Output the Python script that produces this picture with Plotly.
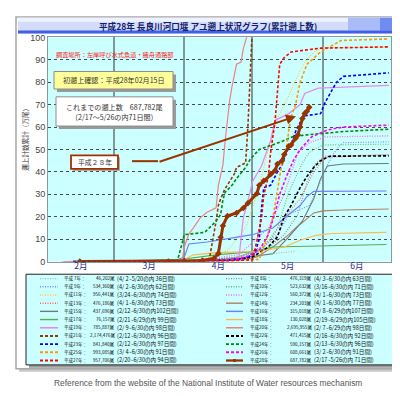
import plotly.graph_objects as go

W, H = 400, 396

# ---------------- data (万尾, cumulative) ----------------
h07_dates = ["4/2", "4/20", "5/5", "5/15", "5/20"]
h07_vals = [0, 1, 3, 4.2, 4.62]
h08_dates = ["4/3", "4/25", "5/8", "5/15", "5/21", "5/25", "5/29", "6/2", "6/30"]
h08_vals = [0, 2, 6, 12, 21, 35.6, 44, 47, 47.63]
h09_dates = ["4/2", "4/25", "5/5", "5/12", "5/17", "5/26", "5/31", "6/2", "6/5", "6/8", "6/10", "6/30"]
h09_vals = [0, 2, 6, 12, 21, 25, 35.6, 41, 47, 51.3, 53, 53.44]
h10_dates = ["3/16", "4/20", "5/5", "5/12", "5/17", "5/23", "5/26", "6/1", "6/30"]
h10_vals = [0, 1, 5, 15, 31, 44, 48.7, 52, 52.36]
h11_dates = ["3/24", "4/10", "4/20", "4/28", "5/3", "5/8", "5/12", "5/17", "5/21", "5/24", "5/28", "6/1", "6/30"]
h11_vals = [0, 1, 5, 15, 30, 50, 64, 74, 83, 89, 93.5, 95.3, 95.64]
h12_dates = ["4/1", "4/25", "5/8", "5/15", "5/21", "5/26", "6/2", "6/30"]
h12_vals = [0, 3, 15, 30, 48.7, 53, 55.6, 56.04]
h13_dates = ["4/1", "4/25", "5/8", "5/15", "5/22", "5/28", "6/2", "6/30"]
h13_vals = [0, 2, 8, 19.5, 28, 40, 46.5, 47.62]
h14_dates = ["4/1", "4/25", "5/3", "5/10", "5/17", "5/20", "5/23", "5/28", "6/1", "6/10", "6/30"]
h14_vals = [0, 0.5, 2, 6.5, 12, 15, 17.4, 21.7, 22.6, 23, 23.42]
h15_dates = ["2/12", "4/10", "4/25", "5/10", "5/17", "5/23", "5/28", "5/31", "6/3", "6/10", "6/30"]
h15_vals = [0, 0.5, 1.5, 3.5, 11, 18, 28, 37, 42.6, 43.5, 43.77]
h16_dates = ["2/8", "3/28", "4/1", "4/3", "4/11", "4/20", "4/25", "5/1", "5/10", "5/17", "5/22", "5/25", "5/28", "6/29"]
h16_vals = [0, 0.5, 2, 7.8, 8.7, 10, 11, 12, 15, 21, 25, 29, 31.3, 31.5]
h17_dates = ["2/21", "3/31", "4/15", "4/30", "5/10", "6/29"]
h17_vals = [0, 1, 3, 4.3, 6.5, 7.62]
h18_dates = ["2/19", "3/31", "4/5", "4/15", "5/3", "5/15", "5/22", "5/29", "6/5", "6/29"]
h18_vals = [0, 0.5, 3, 4, 4.5, 6.5, 9.5, 11.7, 12.5, 13.0]
h19_dates = ["2/9", "4/20", "4/25", "4/26", "4/27", "4/29", "5/1", "5/5", "5/7", "5/9", "5/11", "5/17", "5/22", "5/24", "5/30", "6/30"]
h19_vals = [0, 0.5, 1, 9.4, 19.5, 27, 35.6, 42.6, 48.6, 54, 63, 66, 70, 75, 77.4, 78.59]
h20_dates = ["2/7", "3/31", "4/1", "4/3", "4/5", "4/8", "4/11", "4/15", "4/16", "4/18", "4/19", "4/20",
             "4/21", "4/22", "4/23", "4/24", "4/26", "4/27", "4/29", "5/5", "6/29"]
h20_vals = [0, 0, 6.5, 12.3, 15, 19.5, 22, 24, 34, 43, 54, 64, 72, 78, 83, 88, 89, 95, 102, 150, 269.6]
h21_dates = ["2/12", "4/10", "4/12", "4/13", "4/15", "4/16", "4/17", "4/19", "4/23", "4/24", "4/28",
             "4/29", "4/30", "5/1", "5/3", "6/30"]
h21_vals = [0, 0.2, 1, 6.5, 18, 25, 28, 32.6, 39, 42, 44, 60, 88, 110, 150, 217.4]
h22_dates = ["2/16", "4/20", "5/1", "5/8", "5/12", "5/15", "5/18", "5/22", "5/25", "5/28", "5/31", "6/4", "6/30"]
h22_vals = [0, 0.5, 2, 6.5, 11, 20, 25, 33, 38, 42, 45, 47, 47.14]
h23_dates = ["2/12", "4/20", "4/28", "5/2", "5/4", "5/5", "5/6", "5/9", "5/12", "5/14", "5/16", "5/18",
             "5/20", "5/22", "5/24", "5/31", "6/2", "6/7", "6/10", "6/20", "6/30"]
h23_vals = [0, 0.5, 1.5, 3.6, 10, 24, 33, 34, 40, 43, 49, 52, 58, 62, 65, 66, 71, 80, 82.6, 83.5, 84.18]
h24_dates = ["2/13", "3/29", "3/31", "4/1", "4/10", "4/13", "4/15", "4/17", "4/18", "4/19", "4/22",
             "4/24", "4/28", "4/30", "5/4", "5/8", "5/14", "5/19", "5/25", "6/10", "6/30"]
h24_vals = [0, 0.5, 8, 12, 13, 16, 18, 21, 27.5, 31, 34, 37, 42, 45.6, 50, 51.4, 53.6, 55.8, 56.5, 58, 59.02]
h25_dates = ["3/4", "4/20", "5/4", "5/7", "5/10", "5/12", "5/14", "5/16", "5/17", "5/18", "5/20",
             "5/22", "5/25", "5/31", "6/9", "6/30"]
h25_vals = [0, 0.3, 1, 9.4, 19.5, 31, 44, 50, 58.7, 64.5, 70, 80, 88, 93.5, 98.6, 99.31]
h26_dates = ["3/2", "4/20", "4/28", "5/4", "5/8", "5/11", "5/13", "5/16", "5/19", "5/22", "5/27", "6/3", "6/10", "6/30"]
h26_vals = [0, 0.5, 2, 5, 12, 22, 30, 38, 45, 50, 55.6, 58.7, 60, 60.87]
h27_dates = ["2/20", "4/20", "5/1", "5/3", "5/5", "5/6", "5/8", "5/9", "5/11", "5/12", "5/13",
             "5/15", "5/18", "5/31", "6/30"]
h27_vals = [0, 0.3, 0.8, 9.4, 19.5, 29.7, 38, 48.6, 63, 75, 88, 91, 93.5, 95.2, 95.77]
h28_dates = ["2/15", "3/25", "4/1", "4/9", "4/14", "4/16", "4/17", "4/18", "4/20", "4/24", "4/27",
             "4/29", "5/3", "5/4", "5/6", "5/9", "5/11", "5/12", "5/14", "5/15", "5/17", "5/18",
             "5/20", "5/21", "5/22", "5/23", "5/24", "5/25", "5/26"]
h28_vals = [0, 0, 0.3, 0.5, 1.4, 3.6, 10.9, 16, 20.3, 21.7, 23.9, 26, 30.4, 34, 36, 39, 40.6,
            43.5, 45, 47.8, 51.4, 52, 55, 56.5, 60, 63.8, 66, 67, 68.78]

month_range = ["2016-02-01", "2016-07-01"]

legend_left_labels = ["平成 7年：", "平成 9年：", "平成11年：", "平成13年：", "平成15年：", "平成17年：",
                      "平成19年：", "平成21年：", "平成23年：", "平成25年：", "平成27年："]
legend_left_totals = ["46,202尾", "534,360尾", "956,441尾", "476,186尾", "437,696尾", "76,157尾",
                      "785,887尾", "2,174,476尾", "841,840尾", "993,085尾", "957,706尾"]
legend_left_periods = ["(4/ 2~5/20の内 36日間)", "(4/ 2~6/30の内 62日間)", "(3/24~6/30の内 74日間)",
                       "(4/ 1~6/30の内 73日間)", "(2/12~6/30の内102日間)", "(2/21~6/29の内 99日間)",
                       "(2/ 9~6/30の内 98日間)", "(2/12~6/30の内 96日間)", "(2/12~6/30の内 97日間)",
                       "(3/ 4~6/30の内 91日間)", "(2/20~6/30の内 94日間)"]
legend_right_labels = ["平成 8年：", "平成10年：", "平成12年：", "平成14年：", "平成16年：", "平成18年：",
                       "平成20年：", "平成22年：", "平成24年：", "平成26年：", "平成28年："]
legend_right_totals = ["476,319尾", "523,632尾", "560,372尾", "234,203尾", "315,018尾", "130,028尾",
                       "2,695,955尾", "471,415尾", "590,157尾", "608,661尾", "687,782尾"]
legend_right_periods = ["(4/ 3~6/30の内 63日間)", "(3/16~6/30の内 71日間)", "(4/ 1~6/30の内 73日間)",
                        "(4/ 1~6/30の内 77日間)", "(2/ 8~6/29の内107日間)", "(2/19~6/29の内105日間)",
                        "(2/ 7~6/29の内 98日間)", "(2/16~6/30の内 92日間)", "(2/13~6/30の内 96日間)",
                        "(3/ 2~6/30の内 91日間)", "(2/17~5/26の内 71日間)"]

# ---------------- styles ----------------
DOT = "1px,1.5px"
DASH = "3px,2px"
series = [
    # name, dates, vals, color, width, dash
    ("H7", h07_dates, h07_vals, "#b4b4b4", 1.1, DOT),
    ("H8", h08_dates, h08_vals, "#8c8c8c", 1.1, DOT),
    ("H9", h09_dates, h09_vals, "#6f8cff", 1.1, DOT),
    ("H10", h10_dates, h10_vals, "#60c060", 1.1, DOT),
    ("H11", h11_dates, h11_vals, "#ffc830", 1.1, DOT),
    ("H12", h12_dates, h12_vals, "#f070f0", 1.3, DOT),
    ("H13", h13_dates, h13_vals, "#ff6060", 1.1, DOT),
    ("H14", h14_dates, h14_vals, "#b08060", 1.1, "solid"),
    ("H15", h15_dates, h15_vals, "#707878", 1.1, "solid"),
    ("H16", h16_dates, h16_vals, "#6d7dff", 1.1, "solid"),
    ("H17", h17_dates, h17_vals, "#50b050", 1.1, "solid"),
    ("H18", h18_dates, h18_vals, "#ffb84a", 1.1, "solid"),
    ("H19", h19_dates, h19_vals, "#e48af2", 1.3, "solid"),
    ("H20", h20_dates, h20_vals, "#f08080", 1.2, "solid"),
    ("H21", h21_dates, h21_vals, "#993300", 1.6, DASH),
    ("H22", h22_dates, h22_vals, "#000000", 1.6, DASH),
    ("H23", h23_dates, h23_vals, "#0000ff", 1.6, DASH),
    ("H24", h24_dates, h24_vals, "#008a00", 1.6, DASH),
    ("H25", h25_dates, h25_vals, "#ff9900", 1.6, DASH),
    ("H26", h26_dates, h26_vals, "#ff00ff", 1.6, DASH),
    ("H27", h27_dates, h27_vals, "#ff0000", 1.6, DASH),
]
legend_left_keys = ["H7", "H9", "H11", "H13", "H15", "H17", "H19", "H21", "H23", "H25", "H27"]
legend_right_keys = ["H8", "H10", "H12", "H14", "H16", "H18", "H20", "H22", "H24", "H26", "H28"]


def to_date(md):
    m, d = md.split("/")
    return "2016-%02d-%02d" % (int(m), int(d))


def px(x):
    return x / W


def py(y):
    return 1 - y / H


fig = go.Figure()
for name, ds, vs, col, wdt, dash in series:
    fig.add_trace(go.Scatter(x=[to_date(d) for d in ds], y=vs, mode="lines",
                             line=dict(color=col, width=wdt, dash=dash),
                             showlegend=False, hoverinfo="skip"))
fig.add_trace(go.Scatter(x=[to_date(d) for d in h28_dates], y=h28_vals, mode="lines+markers",
                         line=dict(color="#993300", width=3),
                         marker=dict(symbol="diamond", size=5, color="#993300"),
                         showlegend=False, hoverinfo="skip"))

shapes = []
annos = []


def rect(x0, y0, x1, y1, fill, line="rgba(0,0,0,0)", lw=0, layer="below"):
    shapes.append(dict(type="rect", xref="paper", yref="paper", x0=px(x0), x1=px(x1),
                       y0=py(y1), y1=py(y0), fillcolor=fill,
                       line=dict(color=line, width=lw), layer=layer))


def seg(x0, y0, x1, y1, color, width, dash="solid", layer="below"):
    shapes.append(dict(type="line", xref="paper", yref="paper", x0=px(x0), x1=px(x1),
                       y0=py(y0), y1=py(y1), line=dict(color=color, width=width, dash=dash),
                       layer=layer))


def text(x, y, s, size, color="#222", xanchor="center", bold=False, family="Noto Sans CJK JP", angle=0):
    annos.append(dict(xref="paper", yref="paper", x=px(x), y=py(y), text=("<b>%s</b>" % s) if bold else s,
                      showarrow=False, xanchor=xanchor, yanchor="middle", textangle=angle,
                      borderpad=0, borderwidth=0,
                      font=dict(size=size, color=color, family=family)))


# outer frame with shadow
rect(11, 7, 395, 368, "#c8c8c8")
rect(8, 4, 392, 365, "#ffffff", "#a8a8a8", 1.5)
# title bar
rect(10, 5, 392, 21, "#d3ddfb")
rect(10, 5, 392, 9, "#eef2ff")
rect(340, 5, 392, 18, "#a9bcf7")
rect(372, 5, 392, 18, "#6f8cf2")
rect(10, 18, 392, 21, "#3f5fe8")
text(200, 13, "平成28年 長良川河口堰 アユ遡上状況グラフ(累計遡上数)", 8.6, "#10206a", bold=True)
# plot background
rect(40, 25, 383, 255, "#ccffff")
# legend box
rect(21, 271, 391, 364, "#9a9a9a")
rect(18, 268, 388, 361, "#ccffff", "#222222", 1)

row_y0, row_dy = 272.5, 8.4
style = {n: (c, w, d) for n, _, _, c, w, d in series}
style["H28"] = ("#993300", 2, "solid")
for i in range(11):
    y = row_y0 + i * row_dy
    for keys, labels, totals, periods, lx0, lx1, tx, nx, px0 in (
            (legend_left_keys, legend_left_labels, legend_left_totals, legend_left_periods, 32, 50, 56, 107, 109),
            (legend_right_keys, legend_right_labels, legend_right_totals, legend_right_periods, 218, 235, 242, 304, 306)):
        c, w, d = style[keys[i]]
        seg(lx0, y, lx1, y, c, w + 0.3, d)
        if keys[i] == "H28":
            rect((lx0 + lx1) / 2 - 1.5, y - 1.5, (lx0 + lx1) / 2 + 1.5, y + 1.5, c)
        text(tx, y, labels[i], 4.5, "#111", "left")
        text(nx, y, totals[i], 4.6, "#111", "right")
        text(px0, y, periods[i], 5.6, "#111", "left")

# in-plot notes
text(48, 43, "調査場所：左岸呼び水式魚道・諸舟通路部", 6.2, "#ff1a1a", "left")
rect(49, 63, 168, 81, "#9a9a9a", layer="above")
rect(46, 60, 165, 78, "#ffff99", "#8c8c8c", 1, layer="above")
text(105.5, 69, "初遡上確認：平成28年02月15日", 7.1, "#333")
rect(51, 89, 168, 119, "#9a9a9a", layer="above")
rect(48, 86, 165, 116, "#ffffff", "#8c8c8c", 1, layer="above")
text(106, 96.5, "これまでの遡上数　687,782尾", 7.1, "#333")
text(106, 106.5, "（2/17～5/26の内71日間）", 7.1, "#333")
rect(65, 148, 112, 162, "#b0b0b0", layer="above")
rect(63, 146, 110, 160, "#ffffff", "#993300", 1.8, layer="above")
text(86.5, 153, "平成２８年", 6.8, "#333")
seg(124, 152, 150, 152, "#993300", 2, layer="above")
annos.append(dict(xref="paper", yref="paper", x=px(288), y=py(106), ax=150 - 288, ay=152 - 106,
                  axref="pixel", ayref="pixel", text="", showarrow=True, arrowhead=2,
                  arrowsize=1, arrowwidth=2, arrowcolor="#993300"))

# y-axis title
text(17, 128, "遡上計数累計（万尾）", 6.6, "#333", angle=-90)
# footer
text(200, 380, "Reference from the website of the National Institute of Water resources mechanism",
     8.4, "#555", family="Liberation Sans")

fig.update_layout(
    width=W, height=H, margin=dict(l=0, r=0, t=0, b=0),
    paper_bgcolor="#ffffff", plot_bgcolor="rgba(0,0,0,0)",
    shapes=shapes, annotations=annos,
    xaxis=dict(type="date", range=month_range, domain=[px(40), px(383)],
               dtick="M1", tick0="2016-02-01", ticklabelmode="period", tickformat="%-m月",
               showgrid=True, gridcolor="#7d9a9a", gridwidth=1.5, ticks="",
               ticklabelstandoff=-4,
               tickfont=dict(size=8.5, color="#1c2a8c", family="Noto Sans CJK JP"),
               showline=True, linecolor="#8a9a9a", linewidth=1, mirror=True, zeroline=False,
               fixedrange=True),
    yaxis=dict(range=[0, 100], domain=[py(255), py(25)], dtick=10,
               showgrid=True, gridcolor="#4a4a4a", gridwidth=1, griddash="dot", ticks="",
               tickfont=dict(size=9, color="#444", family="Liberation Sans"),
               showline=True, linecolor="#8a9a9a", linewidth=1, mirror=True, zeroline=False,
               fixedrange=True),
)

fig.write_html("out.html")
